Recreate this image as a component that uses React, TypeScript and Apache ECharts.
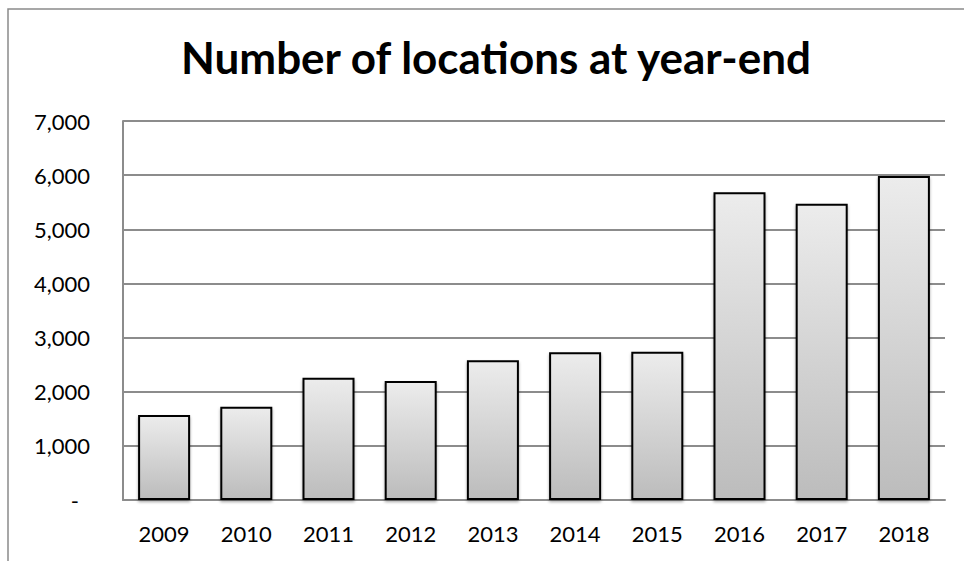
import React, { useEffect, useRef } from "react";
import * as echarts from "echarts";

const titleText = "Number of locations at year-end";
const years = ["2009", "2010", "2011", "2012", "2013", "2014", "2015", "2016", "2017", "2018"];
const locations = [1570, 1723, 2259, 2198, 2580, 2728, 2739, 5683, 5473, 5985];
const yMin = 0;
const yMax = 7000;
const yStep = 1000;

const FONT = "Lato";

export default function App() {
  const ref = useRef<HTMLDivElement>(null);
  useEffect(() => {
    if (!ref.current) return;
    const chart = echarts.init(ref.current, undefined, { renderer: "svg" });
    chart.setOption({
      animation: false,
      backgroundColor: "#ffffff",
      title: {
        text: titleText,
        left: 491,
        top: 30,
        textAlign: "center",
        textStyle: { fontFamily: FONT, fontWeight: "bold", fontSize: 44, color: "#000" },
      },
      graphic: [
        {
          type: "rect",
          shape: { x: 8, y: 9, width: 1200, height: 1000 },
          style: { fill: "none", stroke: "#8a8a8a", lineWidth: 1.5 },
          silent: true,
        },
      ],
      grid: { left: 123, right: 19, top: 121, bottom: 61 },
      xAxis: {
        type: "category",
        data: years,
        axisLine: { show: true, lineStyle: { color: "#8c8c8c", width: 2 } },
        axisTick: { show: false },
        axisLabel: { fontFamily: FONT, fontSize: 22, color: "#000", margin: 22 },
      },
      yAxis: {
        type: "value",
        min: yMin,
        max: yMax,
        interval: yStep,
        axisLine: { show: true, lineStyle: { color: "#8c8c8c", width: 2 } },
        axisTick: { show: false },
        splitLine: { show: true, lineStyle: { color: "#8c8c8c", width: 2 } },
        axisLabel: {
          fontFamily: FONT,
          fontSize: 22,
          color: "#000",
          margin: 33,
          formatter: (v: number) =>
            v === 0 ? "{d|-}" : v.toLocaleString("en-US"),
          rich: {
            d: { fontFamily: FONT, fontSize: 22, color: "#000", padding: [0, 11, 0, 0] },
          },
        },
      },
      series: [
        {
          type: "bar",
          data: locations,
          barWidth: 52,
          itemStyle: {
            color: new echarts.graphic.LinearGradient(0, 0, 0, 1, [
              { offset: 0, color: "#ececec" },
              { offset: 1, color: "#bcbcbc" },
            ]),
            borderColor: "#000",
            borderWidth: 2,
            shadowColor: "rgba(0,0,0,0.35)",
            shadowBlur: 3,
            shadowOffsetY: 2,
          },
        },
      ],
    });
    return () => chart.dispose();
  }, []);
  return (
    <div
      ref={ref}
      style={{ position: "absolute", left: 0, top: 0, width: 964, height: 561 }}
    />
  );
}
